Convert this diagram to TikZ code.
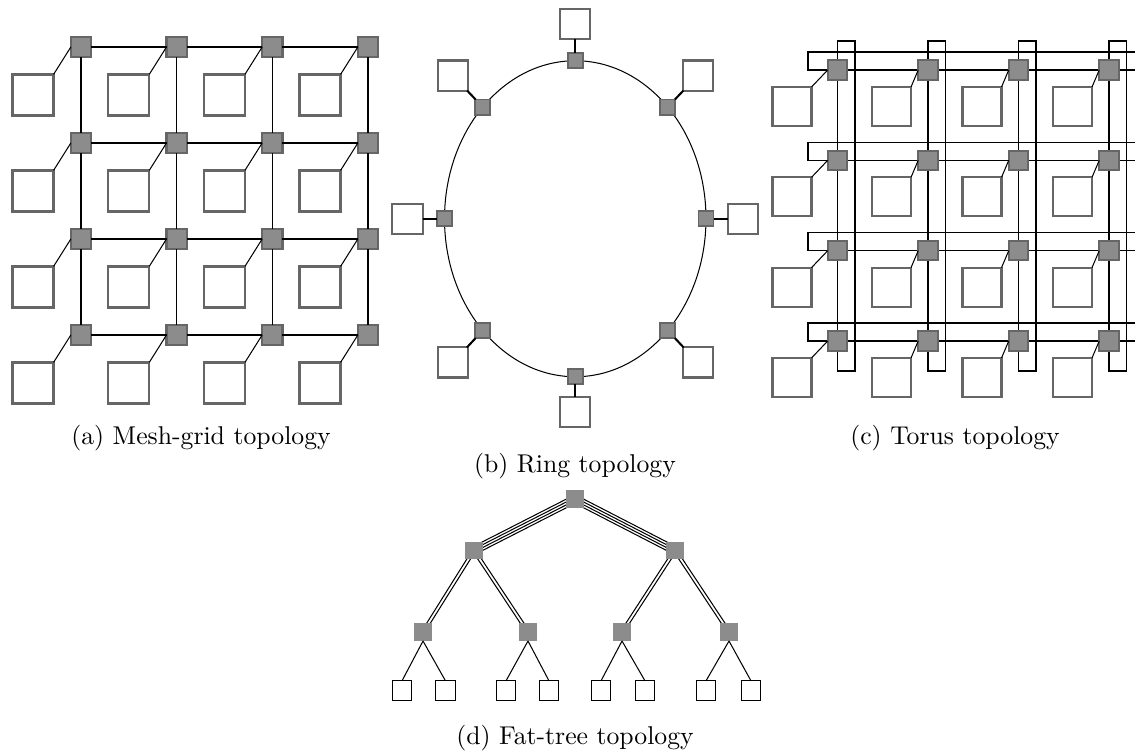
\documentclass[tikz,border=0pt]{standalone}
\usetikzlibrary{calc,backgrounds}

\definecolor{swfill}{HTML}{8C8C8C}
\definecolor{swedge}{HTML}{666666}

\tikzset{
  link/.style={line width=0.4pt, black},
  hostlink/.style={line width=0.8pt, black},
  meshsw/.style={draw=swedge, fill=swfill, line width=0.8pt, minimum size=7.9pt, inner sep=0pt, outer sep=0pt},
  meshhost/.style={draw=swedge, fill=white, line width=0.85pt, minimum size=16.0pt, inner sep=0pt, outer sep=0pt},
  ringsw/.style={draw=swedge, fill=swfill, line width=0.7pt, minimum size=5.9pt, inner sep=0pt, outer sep=0pt},
  ringhost/.style={draw=swedge, fill=white, line width=0.8pt, minimum size=11.7pt, inner sep=0pt, outer sep=0pt},
  torsw/.style={draw=swedge, fill=swfill, line width=0.8pt, minimum size=7.6pt, inner sep=0pt, outer sep=0pt},
  torhost/.style={draw=swedge, fill=white, line width=0.85pt, minimum size=15.2pt, inner sep=0pt, outer sep=0pt},
  treesw/.style={fill=swfill, minimum size=7.0pt, inner sep=0pt, outer sep=0pt},
  leaf/.style={draw=black, fill=white, line width=0.45pt, minimum size=7.5pt, inner sep=0pt, outer sep=0pt},
  caption/.style={inner sep=0pt, font=\normalsize}
}

% bundle of parallel links between two nodes, offsets given as a list
\newcommand\bundle[3]{%
  \foreach \o in {#3}
    \draw[link] ($(#1)!\o!90:(#2)$) -- ($(#2)!\o!-90:(#1)$);%
}

\begin{document}
\begin{tikzpicture}[x=0.3891pt, y=-0.3891pt]
\clip (0,0) rectangle (1135,756);

% ---------------- (a) mesh grid ----------------
\foreach \i in {0,...,3}
  \foreach \j in {0,...,3} {
    \node[meshsw] (m\i\j) at ({81+95.67*\i},{47+96*\j}) {};
    \node[meshhost] (mh\i\j) at ({81+95.67*\i-48},{47+96*\j+48}) {};
    \draw[link] (mh\i\j.north east) -- (m\i\j.west);
  }
\foreach \a/\b in {0/1,1/2,2/3}
  \foreach \k in {0,...,3} {
    \draw[link] (m\a\k) -- (m\b\k);
    \draw[link] (m\k\a) -- (m\k\b);
  }
\node[caption] (capa) at (201,438) {(a) Mesh-grid topology};

% ---------------- (b) ring ----------------
\draw[link] (575.25,218.75) ellipse [x radius=50.87pt, y radius=61.48pt];
\foreach \n/\ang/\dx/\dy in {0/0/37/0, 1/45/30/-31.5, 2/90/0/-36.5, 3/135/-30/-31.5,
                             4/180/-37/0, 5/225/-30/32, 6/270/0/35.5, 7/315/30/32} {
  \node[ringsw] (r\n) at ({575.25+130.75*cos(\ang)},{218.75-158*sin(\ang)}) {};
  \node[ringhost] (rh\n) at ($(r\n)+(\dx,\dy)$) {};
  \draw[hostlink] (rh\n) -- (r\n);
}
\node[caption] (capb) at (575,466) {(b) Ring topology};

% ---------------- (c) torus ----------------
\foreach \r in {0,...,3}
  \draw[link] (808,{70+90.33*\r-18}) rectangle (1170,{70+90.33*\r});
\foreach \c in {0,...,3}
  \draw[link] ({837.5+90.5*\c},41) rectangle ({837.5+90.5*\c+17.5},371);
\foreach \c in {0,...,3}
  \foreach \r in {0,...,3} {
    \node[torsw] (t\c\r) at ({837.5+90.5*\c},{70+90.33*\r}) {};
    \pgfmathsetmacro\hx{\c==0 ? -45.5 : -36.5}
    \node[torhost] (th\c\r) at ($(t\c\r)+(\hx,36.5)$) {};
    \draw[link] (th\c\r.north east) -- (t\c\r.west);
  }
\node[caption] (capc) at (955,438) {(c) Torus topology};

% ---------------- (d) fat tree ----------------
\node[treesw] (root) at (575,499) {};
\node[treesw] (a1) at (474,550.5) {};
\node[treesw] (a2) at (675,550.5) {};
\node[treesw] (b1) at (423,632) {};
\node[treesw] (b2) at (528,632) {};
\node[treesw] (b3) at (622,632) {};
\node[treesw] (b4) at (729,632) {};
\foreach \n/\x in {1/402,2/445.5,3/506,4/549,5/601,6/645,7/706,8/751}
  \node[leaf] (l\n) at (\x,690.5) {};

\begin{scope}[on background layer]
  \bundle{root}{a1}{-1.5pt,-0.5pt,0.5pt,1.5pt}
  \bundle{root}{a2}{-1.5pt,-0.5pt,0.5pt,1.5pt}
  \bundle{a1}{b1}{-0.6pt,0.6pt}
  \bundle{a1}{b2}{-0.6pt,0.6pt}
  \bundle{a2}{b3}{-0.6pt,0.6pt}
  \bundle{a2}{b4}{-0.6pt,0.6pt}
\end{scope}
\foreach \p/\u/\v in {b1/l1/l2, b2/l3/l4, b3/l5/l6, b4/l7/l8} {
  \draw[link] (\u.north) -- (\p.south);
  \draw[link] (\v.north) -- (\p.south);
}
\node[caption] (capd) at (575,738) {(d) Fat-tree topology};
\end{tikzpicture}
\end{document}
